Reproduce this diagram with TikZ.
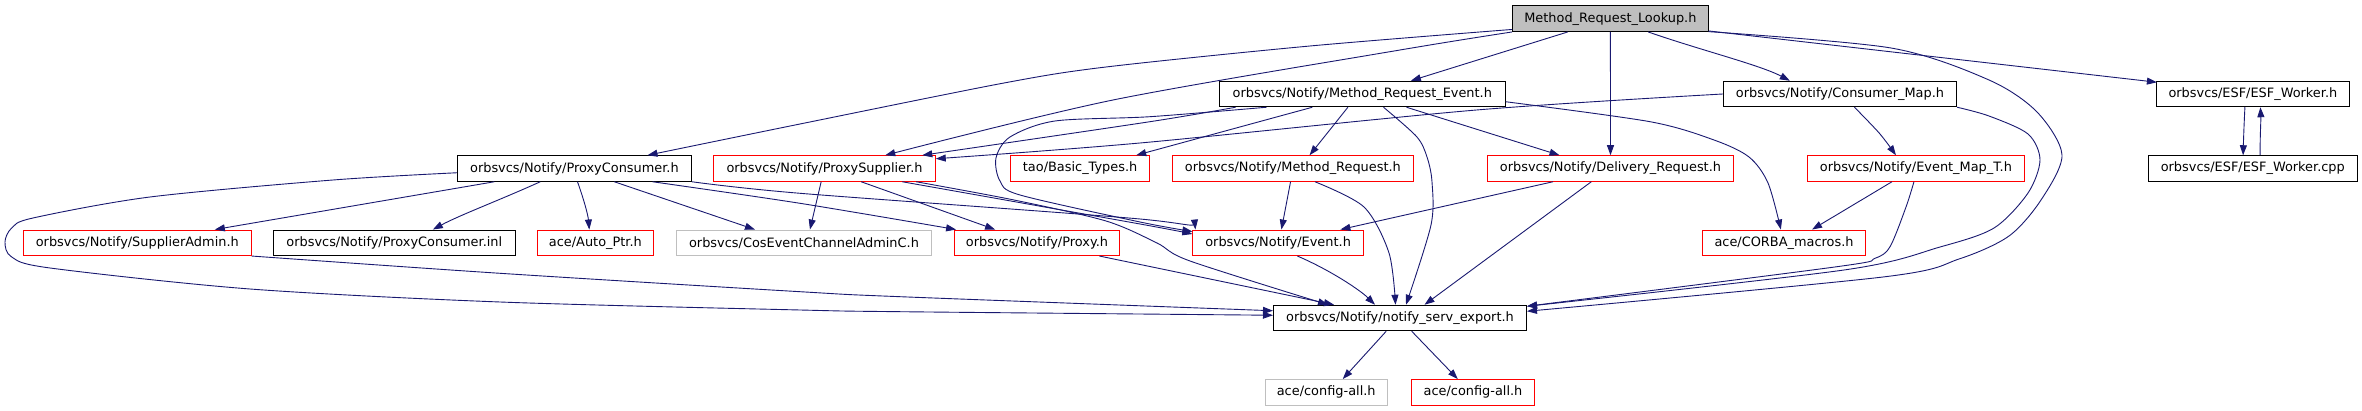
\documentclass[tikz,border=0pt]{standalone}
\usepackage{fontspec}
\newfontfamily\dv{DejaVu Sans}
\usetikzlibrary{arrows.meta,calc}
\definecolor{edgeblue}{HTML}{191970}
\definecolor{lgrey}{HTML}{BFBFBF}
\begin{document}
\begin{tikzpicture}[x=1pt,y=-1pt,
  box/.style={draw=black, line width=1pt, minimum height=25.5pt, inner sep=0pt, font=\dv\fontsize{12.9}{15}\selectfont, text=black},
  redbox/.style={box, draw=red},
  greybox/.style={box, draw=lgrey},
  rootbox/.style={box, fill=lgrey},
  edge/.style={draw=edgeblue, line width=0.9pt, -{Triangle[length=10pt,width=7pt]}},
  smoothp/.style={smooth, tension=0.5}]
\useasboundingbox (0,0) rectangle (2362,411);
% row 1
\node[rootbox, minimum width=195.5pt] (root) at (1610.4,18.7) {Method\_Request\_Lookup.h};
% row 2
\node[box, minimum width=285.8pt] (MRE) at (1362.3,94) {orbsvcs/Notify/Method\_Request\_Event.h};
\node[box, minimum width=233.3pt] (CM) at (1840,94) {orbsvcs/Notify/Consumer\_Map.h};
\node[box, minimum width=193pt] (ESFh) at (2252.9,94) {orbsvcs/ESF/ESF\_Worker.h};
% row 3
\node[box, minimum width=233.8pt] (PC) at (574.4,168.5) {orbsvcs/Notify/ProxyConsumer.h};
\node[redbox, minimum width=221.5pt] (PS) at (824.5,168.5) {orbsvcs/Notify/ProxySupplier.h};
\node[redbox, minimum width=138.8pt] (BT) at (1080.1,168.5) {tao/Basic\_Types.h};
\node[redbox, minimum width=240.9pt] (MR) at (1292.9,168.5) {orbsvcs/Notify/Method\_Request.h};
\node[redbox, minimum width=246pt] (DR) at (1610.5,168.5) {orbsvcs/Notify/Delivery\_Request.h};
\node[redbox, minimum width=216.9pt] (EMT) at (1915.9,168.5) {orbsvcs/Notify/Event\_Map\_T.h};
\node[box, minimum width=208.4pt] (ESFcpp) at (2252.8,168.5) {orbsvcs/ESF/ESF\_Worker.cpp};
% row 4
\node[redbox, minimum width=227.9pt] (SA) at (137.3,242.8) {orbsvcs/Notify/SupplierAdmin.h};
\node[box, minimum width=241.9pt] (PCinl) at (394.3,242.8) {orbsvcs/Notify/ProxyConsumer.inl};
\node[redbox, minimum width=116.4pt] (AP) at (595.4,242.8) {ace/Auto\_Ptr.h};
\node[greybox, minimum width=255.1pt] (CEC) at (804,242.8) {orbsvcs/CosEventChannelAdminC.h};
\node[redbox, minimum width=164.8pt] (PX) at (1037,242.8) {orbsvcs/Notify/Proxy.h};
\node[redbox, minimum width=170.4pt] (EV) at (1278.1,242.8) {orbsvcs/Notify/Event.h};
\node[redbox, minimum width=162.9pt] (CORBA) at (1784,242.8) {ace/CORBA\_macros.h};
% row 5
\node[box, minimum width=253pt] (NSE) at (1400,318) {orbsvcs/Notify/notify\_serv\_export.h};
% row 6
\node[greybox, minimum width=121.9pt] (CA1) at (1326.2,392.3) {ace/config-all.h};
\node[redbox, minimum width=123.5pt] (CA2) at (1473,392.3) {ace/config-all.h};

% ---- edges from root
\coordinate (e1s) at ($(root.south west)+(0,-2.5)$);
\coordinate (e1t) at ($(PC.north west)+(190.5,0)$);
\draw[edge] plot[smoothp] coordinates {(e1s) (1310,46) (1106,67) (1004,83) (800,124) (e1t)};
\coordinate (e2t) at ($(PS.north west)+(172,0)$);
\draw[edge] plot[smoothp] coordinates {(root.south west) (1400,50) (1113,100) (e2t)};
\draw[edge] ($(root.south west)+(55.6,0)$) -- ($(MRE.north west)+(192,0)$);
\draw[edge] (root.south) -- (DR.north);
\draw[edge] ($(root.south west)+(136,0)$) .. controls (1700,50) and (1760,65) .. ($(CM.north west)+(67,0)$);
\draw[edge] ($(root.south east)+(0,-1)$) -- ($(ESFh.north west)+(1,1.5)$);
\coordinate (e7s) at ($(root.south east)+(0,-0.3)$);
\coordinate (e7t) at ($(NSE.north east)+(0,6.5)$);
\draw[edge] plot[smoothp] coordinates {(e7s) (1891,48) (1989,80) (2037,112) (2062,155) (2041,200) (2009,236) (1959,259) (1883,277) (e7t)};
% ---- Consumer_Map
\coordinate (e8t) at ($(NSE.north east)+(0,1.5)$);
\draw[edge] plot[smoothp] coordinates {(CM.south east) (1989,116) (2028,134) (2040,160) (2028,193) (1994,228) (1940,247) (1844,270) (e8t)};
\coordinate (e11s) at ($(CM.south west)+(131.6,0)$);
\coordinate (e11t) at ($(EMT.north west)+(89,0)$);
\draw[edge] plot[smoothp] coordinates {(e11s) (1879.4,133.3) (e11t)};
\coordinate (e12t) at ($(PS.north east)+(0,3.5)$);
\draw[edge] plot[smoothp] coordinates {(CM.west) (1476.5,110) (1140,143) (e12t)};
% ---- Event_Map_T
\coordinate (e9s) at ($(EMT.south west)+(107,0)$);
\draw[edge] plot[smoothp] coordinates {(e9s) (1906,207) (1890,246.7) (1875,258.3) (1837,266.7) (e8t)};
\draw[edge] ($(EMT.south west)+(85,0)$) -- ($(CORBA.north west)+(110,0)$);
% ---- Method_Request_Event
\coordinate (e13s) at ($(MRE.south west)+(16.6,0)$);
\coordinate (e13t) at ($(PS.north west)+(209,0)$);
\draw[edge] plot[smoothp] coordinates {(e13s) (1150,121.7) (e13t)};
\coordinate (e14s) at ($(MRE.south west)+(47.6,0)$);
\coordinate (e14t) at ($(EV.north west)+(0,2)$);
\draw[edge] plot[smoothp] coordinates {(e14s) (1150,116.7) (1055,121) (1010,137) (996,158) (1000,181) (1020,195) (1140,222) (e14t)};
\draw[edge] ($(MRE.south west)+(93.4,0)$) -- ($(BT.north west)+(126,0)$);
\draw[edge] ($(MRE.south west)+(129,0)$) -- ($(MR.north west)+(137.6,0)$);
\draw[edge] ($(MRE.south west)+(187.6,0)$) -- ($(DR.north west)+(72.5,0)$);
\coordinate (e18s) at ($(MRE.south west)+(164.6,0)$);
\coordinate (e18t) at ($(NSE.north west)+(133,0)$);
\draw[edge] plot[smoothp] coordinates {(e18s) (1416.7,136.7) (1427,157) (1432,182) (1431,225) (e18t)};
\coordinate (e19s) at ($(MRE.north east)+(0,21)$);
\coordinate (e19t) at ($(CORBA.north west)+(78.8,0)$);
\draw[edge] plot[smoothp] coordinates {(e19s) (1650,121.7) (1714,140) (1749,157) (1768,183) (e19t)};
% ---- ProxySupplier
\draw[edge] ($(PS.south west)+(107.9,0)$) -- ($(CEC.north west)+(134,0)$);
\draw[edge] ($(PS.south west)+(147.9,0)$) -- ($(PX.north west)+(41,0)$);
\coordinate (e22s) at ($(PS.south west)+(189,0)$);
\coordinate (e22t) at ($(EV.north west)+(0,4.5)$);
\draw[edge] plot[smoothp] coordinates {(e22s) (1140,224) (e22t)};
\coordinate (e23s) at ($(PS.south west)+(202.9,0)$);
\coordinate (e23t) at ($(NSE.north west)+(55,0)$);
\draw[edge] plot[smoothp] coordinates {(e23s) (1014,200) (1106,221) (1157,243) (1190,261) (e23t)};
% ---- ProxyConsumer
\draw[edge] ($(PC.south west)+(37.4,0)$) -- ($(SA.north west)+(192,0)$);
\draw[edge] ($(PC.south west)+(83.3,0)$) .. controls (500,200) and (460,215) .. ($(PCinl.north west)+(160,0)$);
\draw[edge] ($(PC.south west)+(120.5,0)$) .. controls (584,200) and (588,215) .. ($(AP.north west)+(52.6,0)$);
\draw[edge] ($(PC.south west)+(157.3,0)$) -- ($(CEC.north west)+(79,0)$);
\coordinate (e28s) at ($(PC.south west)+(195.5,0)$);
\coordinate (e28t) at ($(PX.north west)+(2,0)$);
\draw[edge] plot[smoothp] coordinates {(e28s) (800,203.3) (e28t)};
\coordinate (e29t) at ($(EV.north west)+(3,0)$);
\draw[edge] plot[smoothp] coordinates {(PC.south east) (800,193.3) (1140,219) (e29t)};
\coordinate (e30s) at ($(PC.north west)+(0,17.5)$);
\coordinate (e30t) at ($(NSE.north west)+(0,10.5)$);
\draw[edge] plot[smoothp] coordinates {(e30s) (333,180) (150,197) (33,218) (11.7,228) (5,242) (11.7,257) (50,268) (250,289) (500,302) (800,310) (900,311.7) (e30t)};
% ---- SupplierAdmin
\coordinate (e31t) at ($(NSE.north west)+(0,6)$);
\draw[edge] plot[smoothp] coordinates {(SA.south east) (500,273.3) (800,291.7) (900,296.7) (e31t)};
% ---- Proxy, Event, Method_Request, Delivery_Request
\draw[edge] ($(PX.south west)+(145.4,0)$) -- ($(NSE.north west)+(61,0)$);
\draw[edge] ($(EV.south west)+(105,0)$) .. controls (1330,270) and (1360,290) .. ($(NSE.north west)+(102,0)$);
\draw[edge] ($(MR.south west)+(118.6,0)$) -- ($(EV.north west)+(89,0)$);
\coordinate (e35s) at ($(MR.south west)+(143,0)$);
\coordinate (e35t) at ($(NSE.north west)+(122.5,0)$);
\draw[edge] plot[smoothp] coordinates {(e35s) (1364,207) (1389,253) (e35t)};
\draw[edge] ($(DR.south west)+(66,0)$) -- ($(EV.north west)+(148,0)$);
\draw[edge] ($(DR.south west)+(104.3,0)$) -- ($(NSE.north west)+(151.5,0)$);
% ---- notify_serv_export
\draw[edge] ($(NSE.south west)+(113.2,0)$) -- ($(CA1.north west)+(78,0)$);
\draw[edge] ($(NSE.south west)+(138.7,0)$) -- ($(CA2.north west)+(47,0)$);
% ---- ESF_Worker
\draw[edge] ($(ESFh.south west)+(89,0)$) .. controls (2244,125) and (2243.5,140) .. ($(ESFcpp.north west)+(95,0)$);
\draw[edge] ($(ESFcpp.north west)+(112,0)$) .. controls (2260,135) and (2261,120) .. ($(ESFh.south west)+(104.5,0)$);
\end{tikzpicture}
\end{document}
